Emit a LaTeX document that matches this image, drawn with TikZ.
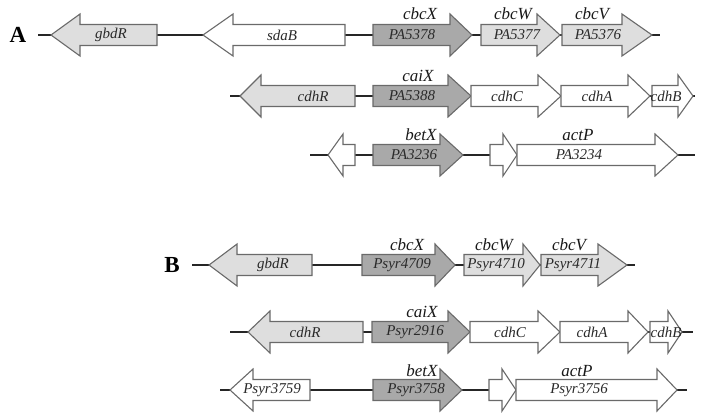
\documentclass[tikz,border=0pt]{standalone}
\usepackage{fontspec}
\setmainfont{Liberation Serif}
\definecolor{lightg}{HTML}{DEDEDE}
\definecolor{darkg}{HTML}{A9A9A9}
\definecolor{edge}{HTML}{6A6A6A}
\definecolor{txt}{HTML}{2A2A2A}
\newcommand{\gene}[5]{% back, base, tip, y, fill
  \filldraw[genebox,fill=#5] (#1,#4-10.5) -- (#2,#4-10.5) -- (#2,#4-21) -- (#3,#4) -- (#2,#4+21) -- (#2,#4+10.5) -- (#1,#4+10.5) -- cycle;}
\tikzset{
  genebox/.style={draw=edge,line width=1.1pt,line join=miter},
  dna/.style={draw=black!85,line width=1.8pt},
  intext/.style={font=\fontsize{15}{15}\selectfont\itshape,text=txt,inner sep=0pt},
  toptext/.style={font=\fontsize{17}{17}\selectfont\itshape,text=black!90,inner sep=0pt},
  panel/.style={font=\fontsize{23}{23}\selectfont\bfseries,inner sep=0pt}
}
\begin{document}
\begin{tikzpicture}[x=1pt,y=-1pt]
\useasboundingbox (0,0) rectangle (704,419);
% ---------- Panel A ----------
\node[panel] (A) at (18,35) {A};
% row A1
\coordinate (a1s) at (38,35); \coordinate (a1e) at (660,35);
\draw[dna] (a1s) -- (a1e);
\gene{157}{80}{51}{35}{lightg}
\gene{345}{233}{203}{35}{white}
\gene{373}{450}{472}{35}{darkg}
\gene{481}{537}{560}{35}{lightg}
\gene{562}{622}{652}{35}{lightg}
\node[intext] (a1g) at (111,35) {gbdR};
\node[intext] (a1s2) at (282,35) {sdaB};
\node[intext] (a1x) at (412,35) {PA5378};
\node[intext] (a1w) at (517,35) {PA5377};
\node[intext] (a1v) at (598,35) {PA5376};
\node[toptext] (a1xl) at (420,14) {cbcX};
\node[toptext] (a1wl) at (513,14) {cbcW};
\node[toptext] (a1vl) at (592,14) {cbcV};
% row A2
\coordinate (a2s) at (230,96); \coordinate (a2e) at (695,96);
\draw[dna] (a2s) -- (a2e);
\gene{355}{261}{240}{96}{lightg}
\gene{373}{448}{471}{96}{darkg}
\gene{471}{538}{561}{96}{white}
\gene{561}{628}{650}{96}{white}
\gene{652}{678}{693}{96}{white}
\node[intext] (a2r) at (313,96) {cdhR};
\node[intext] (a2x) at (412,96) {PA5388};
\node[toptext] (a2xl) at (418,76) {caiX};
\node[intext] (a2c) at (507,96) {cdhC};
\node[intext] (a2a) at (597,96) {cdhA};
\node[intext] (a2b) at (666,96) {cdhB};
% row A3
\coordinate (a3s) at (310,155); \coordinate (a3e) at (695,155);
\draw[dna] (a3s) -- (a3e);
\gene{355}{343}{328}{155}{white}
\gene{373}{440}{463}{155}{darkg}
\gene{490}{503}{517}{155}{white}
\gene{517}{655}{678}{155}{white}
\node[intext] (a3x) at (414,155) {PA3236};
\node[toptext] (a3xl) at (421,135) {betX};
\node[intext] (a3p) at (579,155) {PA3234};
\node[toptext] (a3pl) at (578,135) {actP};
% ---------- Panel B ----------
\node[panel] (B) at (172,265) {B};
% row B1
\coordinate (b1s) at (192,265); \coordinate (b1e) at (635,265);
\draw[dna] (b1s) -- (b1e);
\gene{312}{237}{209}{265}{lightg}
\gene{362}{435}{455}{265}{darkg}
\gene{464}{523}{540}{265}{lightg}
\gene{541}{598}{627}{265}{lightg}
\node[intext] (b1g) at (273,265) {gbdR};
\node[intext] (b1x) at (402,265) {Psyr4709};
\node[toptext] (b1xl) at (407,245) {cbcX};
\node[intext] (b1w) at (496,265) {Psyr4710};
\node[toptext] (b1wl) at (494,245) {cbcW};
\node[intext] (b1v) at (573,265) {Psyr4711};
\node[toptext] (b1vl) at (569,245) {cbcV};
% row B2
\coordinate (b2s) at (230,332); \coordinate (b2e) at (693,332);
\draw[dna] (b2s) -- (b2e);
\gene{363}{270}{248}{332}{lightg}
\gene{372}{448}{470}{332}{darkg}
\gene{470}{538}{560}{332}{white}
\gene{560}{628}{648}{332}{white}
\gene{650}{668}{682}{332}{white}
\node[intext] (b2r) at (305,332) {cdhR};
\node[intext] (b2x) at (415,332) {Psyr2916};
\node[toptext] (b2xl) at (422,312) {caiX};
\node[intext] (b2c) at (510,332) {cdhC};
\node[intext] (b2a) at (592,332) {cdhA};
\node[intext] (b2b) at (666,332) {cdhB};
% row B3
\coordinate (b3s) at (220,390); \coordinate (b3e) at (687,390);
\draw[dna] (b3s) -- (b3e);
\gene{310}{253}{230}{390}{white}
\gene{373}{440}{462}{390}{darkg}
\gene{489}{502}{516}{390}{white}
\gene{516}{657}{677}{390}{white}
\node[intext] (b3l) at (272,390) {Psyr3759};
\node[intext] (b3x) at (416,390) {Psyr3758};
\node[toptext] (b3xl) at (422,371) {betX};
\node[intext] (b3p) at (579,390) {Psyr3756};
\node[toptext] (b3pl) at (577,371) {actP};
\end{tikzpicture}
\end{document}
